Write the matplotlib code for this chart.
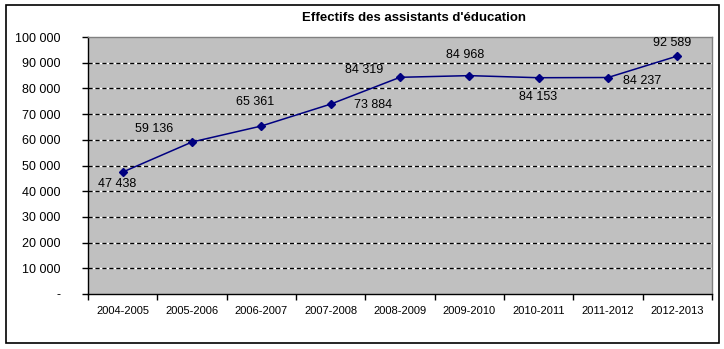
import matplotlib
matplotlib.use("Agg")
import matplotlib.pyplot as plt
from matplotlib.patches import Rectangle

# Data
seasons = ["2004-2005", "2005-2006", "2006-2007", "2007-2008", "2008-2009",
           "2009-2010", "2010-2011", "2011-2012", "2012-2013"]
effectifs = [47438, 59136, 65361, 73884, 84319, 84968, 84153, 84237, 92589]
y_ticks = [0, 10000, 20000, 30000, 40000, 50000, 60000, 70000, 80000, 90000, 100000]
title = "Effectifs des assistants d'éducation"

# label offsets (pixels) relative to each point
label_offsets = [(-6, -12), (-38, 13), (-6, 24), (42, -1), (-36, 7),
                 (-4, 21), (-1, -19), (34, -3), (-5, 13)]

W, H, DPI = 724, 349, 100
fig = plt.figure(figsize=(W / DPI, H / DPI), dpi=DPI)
fig.patch.set_facecolor("white")

left, right, top, bottom = 88, 712, 37, 294
ax = fig.add_axes([left / W, 1 - bottom / H, (right - left) / W, (bottom - top) / H])
ax.set_facecolor("#C0C0C0")

fam = ["Liberation Sans", "DejaVu Sans"]

x = list(range(len(seasons)))
ax.set_xlim(-0.5, len(seasons) - 0.5)
ax.set_ylim(0, 100000)

# gridlines: white base with black dashes on top
for v in y_ticks[1:-1]:
    ax.axhline(v, color="white", lw=1.0, zorder=1)
    ax.axhline(v, color="black", lw=1.0, ls=(0, (3, 2)), zorder=1.1)

ax.plot(x, effectifs, color="#000080", lw=1.1, marker="D", markersize=4.5,
        markerfacecolor="#000080", markeredgecolor="#000080", zorder=3)

def fmt(v):
    return f"{v:,}".replace(",", " ")

for xi, v, (dx, dy) in zip(x, effectifs, label_offsets):
    ax.annotate(fmt(v), (xi, v), xytext=(dx, dy), textcoords="offset pixels",
                ha="center", va="center", fontsize=9, family=fam,
                color="black", zorder=4)

# axes styling
for s in ["top", "right"]:
    ax.spines[s].set_color("#808080")
    ax.spines[s].set_linewidth(1.0)
for s in ["left", "bottom"]:
    ax.spines[s].set_color("black")
    ax.spines[s].set_linewidth(1.0)

ax.set_yticks(y_ticks)
ax.set_yticklabels(["-" if v == 0 else fmt(v) for v in y_ticks],
                   fontsize=9, family=fam)
ax.tick_params(axis="y", direction="out", length=4, width=1, pad=16)

ax.set_xticks(x)
ax.set_xticklabels(seasons, fontsize=8, family=fam)
ax.tick_params(axis="x", length=0, pad=9)
ax.set_xticks([i - 0.5 for i in range(len(seasons) + 1)], minor=True)
ax.tick_params(axis="x", which="minor", direction="out", length=4, width=1)

fig.text(414 / W, 1 - 18 / H, title, ha="center", va="center",
         fontsize=9.5, fontweight="bold", family=fam)

# chart border
fig.patches.append(Rectangle((6 / W, 1 - 343 / H), 713 / W, 338 / H,
                             transform=fig.transFigure, fill=False,
                             edgecolor="black", lw=1.2))

fig.savefig("out.png", dpi=DPI)
